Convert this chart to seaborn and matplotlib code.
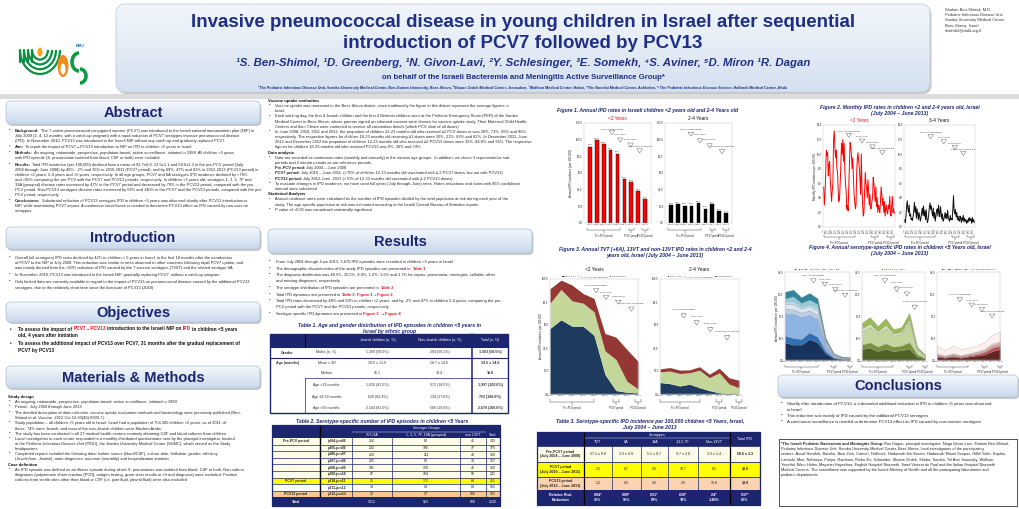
import textwrap
import numpy as np
import seaborn as sns
import matplotlib
matplotlib.use('Agg')
import matplotlib.pyplot as plt
from matplotlib.patches import Rectangle, FancyBboxPatch, Arc, Ellipse
from matplotlib.colors import LinearSegmentedColormap
from matplotlib.lines import Line2D

sns.set_style('white')
plt.rcParams['font.family'] = ['Liberation Sans', 'DejaVu Sans']
NARROW = ['Liberation Sans Narrow', 'Liberation Sans', 'DejaVu Sans']

# ---------------- data ----------------
years = ['2004-05', '2005-06', '2006-07', '2007-08', '2008-09',
         '2009-10', '2010-11', '2011-12', '2012-13']
rate_u2 = [91.6, 99.0, 94.8, 87.4, 83.1, 52.6, 49.4, 38.6, 28.5]
rate_2to4 = [21.8, 23.0, 20.8, 21.0, 23.7, 17.2, 22.4, 14.1, 11.9]

monthly_u2 = [5.5, 3.0, 4.5, 7.0, 10.5, 9.8, 10.2, 7.0, 8.5, 9.0, 6.5, 5.0,
              3.5, 5.0, 6.0, 12.0, 13.2, 11.0, 9.5, 10.5, 8.0, 7.5, 5.0, 3.5,
              4.0, 6.0, 8.5, 11.5, 10.0, 12.0, 9.0, 11.5, 8.0, 6.0, 5.0, 2.5,
              3.0, 2.2, 5.5, 8.5, 11.6, 11.0, 10.0, 8.0, 9.5, 7.0, 4.5, 3.5,
              2.5, 3.0, 7.5, 9.5, 10.2, 9.0, 8.0, 6.5, 4.5, 10.0, 5.5, 3.0,
              1.5, 2.0, 5.0, 7.5, 6.0, 5.5, 4.0, 6.5, 5.0, 3.0, 4.5, 2.5,
              2.5, 3.5, 4.0, 6.8, 6.0, 5.0, 3.5, 5.5, 2.8, 4.0, 2.0, 3.0,
              2.5, 2.0, 3.5, 5.5, 4.5, 3.0, 4.0, 2.0, 3.5, 1.5, 2.5, 3.0,
              2.0, 1.8, 3.0, 2.5, 4.2, 2.0, 1.5, 3.0, 4.2, 2.0, 2.5, 1.8]
monthly_2to4 = [1.0, 0.6, 1.5, 2.8, 3.6, 2.5, 2.0, 3.0, 1.5, 1.8, 1.0, 1.2,
                0.9, 1.5, 2.2, 3.4, 2.0, 2.8, 1.2, 2.5, 1.8, 1.0, 2.0, 1.5,
                0.8, 1.2, 2.0, 2.6, 1.6, 2.9, 1.5, 2.2, 1.0, 2.4, 1.2, 0.6,
                1.0, 1.8, 2.8, 3.3, 2.4, 2.9, 2.0, 1.5, 2.6, 1.2, 2.0, 0.8,
                1.5, 2.2, 2.5, 1.5, 3.0, 2.0, 1.4, 2.8, 2.0, 1.1, 1.8, 0.8,
                1.0, 1.4, 2.0, 1.2, 1.8, 1.1, 2.3, 1.3, 1.0, 0.8, 1.6, 1.0,
                1.2, 1.0, 2.5, 4.3, 2.2, 1.8, 2.4, 1.4, 2.0, 1.0, 1.5, 0.9,
                0.8, 1.5, 1.2, 0.6, 1.3, 0.9, 1.6, 0.7, 1.2, 0.8, 1.0, 0.5,
                0.9, 0.6, 1.2, 0.8, 1.3, 0.9, 1.1, 0.5, 1.3, 0.7, 1.0, 0.6]

grp_names = ['PCV7 + 6A', '1, 3, 5, 7F, 19A (grouped)', 'NON PCV13']
u2_pcv7 = [57.0, 64.5, 59.0, 59.0, 51.0, 17.0, 3.0, 1.5, 1.0]
u2_grouped = [22.0, 26.5, 22.0, 20.0, 20.5, 20.5, 27.0, 9.5, 3.5]
u2_non13 = [12.6, 8.0, 13.8, 8.4, 11.6, 15.1, 19.4, 27.6, 24.0]
o2_pcv7 = [10.0, 9.0, 7.0, 8.5, 5.5, 3.0, 1.0, 0.5, 0.3]
o2_grouped = [9.3, 11.0, 10.8, 10.0, 15.2, 11.2, 17.4, 8.1, 5.1]
o2_non13 = [2.5, 3.0, 3.0, 2.5, 3.0, 3.0, 4.0, 5.5, 6.5]

pcv7_types = ['4', '6B', '9V', '14', '18C', '19F', '23F', '6A']
pcv7_rates = [[8, 7, 7, 9.5, 8, 3, 0.8, 0.4, 0.3],
              [3, 3, 2.5, 3, 2.5, 1, 0.3, 0.2, 0.2],
              [10, 11, 10, 8, 8, 2.5, 0.6, 0.3, 0.2],
              [2.5, 2, 2, 2, 2, 0.8, 0.3, 0.1, 0.1],
              [2, 2.5, 2, 2, 2, 0.7, 0.3, 0.2, 0.1],
              [1, 1.5, 1, 1, 1.5, 0.5, 0.2, 0.1, 0.1],
              [1.5, 2, 1.5, 2, 1.5, 0.7, 0.3, 0.1, 0.1],
              [3, 3, 2.5, 3, 2.5, 0.8, 0.2, 0.1, 0.1]]
add_types = ['1', '3', '5', '7F', '19A']
add_rates = [[5, 5.5, 4, 5, 4, 4.5, 5, 1.5, 0.6],
             [2, 2.5, 2, 2.5, 2, 2, 3, 1, 0.4],
             [6, 7, 6, 7, 5, 5.5, 9, 2.5, 1],
             [1.5, 1.5, 1, 1.5, 1, 1, 1.5, 0.3, 0.1],
             [2.5, 3, 2.5, 3, 2, 2, 3, 0.7, 0.4]]
non_types = ['12F', '15A', '15B/C', '33F', '38', 'Others non-13VT']
non_rates = [[1.5, 1, 1.5, 1, 1.5, 2, 2.5, 4, 5],
             [0.5, 0.3, 0.5, 0.4, 0.5, 0.6, 1, 1.5, 1.5],
             [0.3, 0.2, 0.3, 0.3, 0.3, 0.4, 0.5, 0.8, 0.8],
             [0.4, 0.3, 0.4, 0.3, 0.4, 0.5, 0.5, 0.7, 0.7],
             [0.3, 0.2, 0.3, 0.2, 0.3, 0.3, 0.5, 0.5, 0.5],
             [3.5, 2.5, 3.5, 2.8, 2.5, 2.7, 3, 4, 4.5]]

events = ['PCV7 to private market', 'PCV7 to NIP', 'PCV13 to NIP', 'CATCH-UP PCV13 to NIP']

t1_head = ['Jewish children (n, %)', 'Non-Jewish children (n, %)', 'Total (n, %)']
t1_rows = [['Gender', 'Males (n, %)', '1,269 (58.0%)', '294 (58.1%)', '1,563 (58.5%)'],
           ['Age (months)', 'Mean ± SD', '19.6 ± 13.9', '18.7 ± 14.6', '19.5 ± 14.0'],
           ['', 'Median', '16.1', '14.4', '16.0'],
           ['', 'Age <24 months', '1,635 (81.5%)', '372 (18.5%)', '1,997 (100.0%)'],
           ['', 'Age 24-59 months', '629 (82.4%)', '134 (17.6%)', '763 (100.0%)'],
           ['', 'Age <60 months', '2,164 (81.0%)', '506 (19.0%)', '2,670 (100.0%)']]

t2_head = ['7VT+6A', '1, 3, 5, 7F, 19A (grouped)', 'non 13VT', 'Total']
t2_period = ['Pre-PCV period', '', '', '', '', '', 'PCV7 period', '', 'PCV13 period', 'Total']
t2_years = ['jul04-jun05', 'jul05-jun06', 'jul06-jun07', 'jul07-jun08', 'jul08-jun09',
            'jul09-jun10', 'jul10-jun11', 'jul11-jun12', 'jul12-jun13', '']
t2_vt = ['216', '232', '210', '225', '191', '87', '25', '14', '12', '1212']
t2_grp = ['82', '106', '111', '99', '128', '104', '172', '84', '37', '923']
t2_non = ['45', '37', '48', '33', '41', '50', '64', '84', '106', '508']
t2_tot = ['343', '375', '369', '357', '360', '241', '261', '182', '155', '2643']

t3_cols = ['TVT', '6A', '19A', '1,3,5,7F', 'Non-13VT']
t3_periods = ['Pre-PCV7 period\n(July 2004 – June 2008)', 'PCV7 period\n(July 2010 – June 2011)',
              'PCV13 period\n(July 2012 – June 2013)', 'Relative Risk\nReduction']
t3_vals = [['37.2 ± 0.8', '3.3 ± 0.9', '5.1 ± 0.7', '9.7 ± 2.0', '3.3 ± 1.4', '58.6 ± 2.3'],
           ['2.5', '0.7', '5.0', '18.7', '8.1', '33.0'],
           ['1.2', '0.3', '1.6', '2.9', '12.8', '18.8'],
           ['0.04*\n96%', '0.09*\n91%', '0.31*\n69%', '0.30*\n70%', '2.4*\n-140%', '0.37*\n63%']]

# ---------------- canvas ----------------
W, H = 1020, 509
NAVY = '#1f2f86'
TNAVY = '#1c2670'
TXT = '#262626'
RED = '#e8141b'

fig = plt.figure(figsize=(W / 100, H / 100), dpi=100)
bg = fig.add_axes([0, 0, 1, 1])
bg.set_xlim(0, W)
bg.set_ylim(H, 0)
bg.axis('off')
renderer = fig.canvas.get_renderer()
inv = bg.transData.inverted()


def px_axes(x0, y0, x1, y1):
    return fig.add_axes([x0 / W, 1 - y1 / H, (x1 - x0) / W, (y1 - y0) / H])


def grad_box(x0, y0, x1, y1, c_top, c_bot, ec='#b4c6dc', r=5, shadow=True):
    bs = 'round,pad=0,rounding_size=%s' % r
    if shadow:
        bg.add_patch(FancyBboxPatch((x0 + 1.5, y0 + 2), x1 - x0, y1 - y0, boxstyle=bs,
                                    fc='#c8c8c8', ec='none', zorder=1))
    p = FancyBboxPatch((x0, y0), x1 - x0, y1 - y0, boxstyle=bs, fc='none', ec=ec, lw=0.6, zorder=3)
    bg.add_patch(p)
    cmap = LinearSegmentedColormap.from_list('g', [c_top, c_bot])
    im = bg.imshow(np.linspace(0, 1, 60).reshape(-1, 1), extent=[x0, x1, y1, y0], cmap=cmap,
                   aspect='auto', zorder=2, interpolation='bilinear')
    im.set_clip_path(p)


def section(x0, y0, x1, y1, title):
    grad_box(x0, y0, x1, y1, '#f4f8fc', '#c9d9ec')
    bg.text((x0 + x1) / 2, (y0 + y1) / 2 + 0.5, title, ha='center', va='center', fontsize=10.5,
            fontweight='bold', color=TNAVY, zorder=4)


def rich(x, y, segs, fs, zorder=4):
    sp = fs * 100 / 72 * 0.278
    for s, c, bold in segs:
        lead = len(s) - len(s.lstrip(' '))
        trail = len(s) - len(s.rstrip(' '))
        x += lead * sp
        core = s.strip(' ')
        if core:
            t = bg.text(x, y, core, fontsize=fs, color=c, fontweight='bold' if bold else 'normal',
                        va='center', ha='left', zorder=zorder)
            bb = t.get_window_extent(renderer)
            x = inv.transform((bb.x1, bb.y0))[0]
        x += trail * sp
    return x


def para(x, y, width, text, fs=2.9, lh=5.1, lead=None, bullet='•', gap=1.0, color=TXT):
    ind = 7 if bullet else 0
    chars = int((width - ind) / (fs * 100 / 72 * 0.47))
    lines = textwrap.wrap(text, chars)
    if bullet:
        bg.text(x + 1, y, bullet, fontsize=fs, color=color, va='center', zorder=4)
    for i, ln in enumerate(lines):
        if i == 0 and lead and ln.startswith(lead):
            rich(x + ind, y, [(lead, color, True), (ln[len(lead):], color, False)], fs)
        else:
            bg.text(x + ind, y, ln, fontsize=fs, color=color, va='center', zorder=4)
        y += lh
    return y + gap


def sub(x, y, s, fs=3.0):
    bg.text(x, y, s, fontsize=fs, fontweight='bold', color='#111111', va='center', zorder=4)
    return y + 5.1


def fig_title(xc, y, lines):
    for i, s in enumerate(lines):
        bg.text(xc, y + i * 6, s, ha='center', va='center', fontsize=3.7, fontweight='bold',
                fontstyle='italic', color=TNAVY, zorder=4)


def style(ax, ymax, ystep, xlim=None):
    ax.set_ylim(0, ymax)
    ticks = np.arange(0, ymax + 0.001, ystep)
    ax.set_yticks(ticks)
    ax.set_yticklabels(['%.1f' % v for v in ticks])
    ax.tick_params(length=0, pad=1, labelsize=1.9)
    if xlim is not None:
        ax.set_xlim(*xlim)
    for s in ax.spines.values():
        s.set_color('#bdbdbd')
        s.set_linewidth(0.3)
    ax.set_xlabel('')
    ax.set_ylabel('')


def brace(ax, x0, x1, label, y=-0.07, d=0.025):
    tr = ax.get_xaxis_transform()
    ax.plot([x0, x0, x1, x1], [y + d, y, y, y + d], transform=tr, clip_on=False, color='#333333', lw=0.3)
    xm = (x0 + x1) / 2
    ax.plot([xm, xm], [y, y - d], transform=tr, clip_on=False, color='#333333', lw=0.3)
    ax.text(xm, y - d - 0.01, label, transform=tr, ha='center', va='top', fontsize=1.8, color='#222222')


def arrows(ax, spots):
    for lab, (x, yt, yh) in zip(events, spots):
        ax.annotate(lab, xy=(x, yh), xytext=(x, yt), ha='center', va='bottom', fontsize=1.5,
                    color='#222222',
                    arrowprops=dict(arrowstyle='simple,head_width=0.8,head_length=0.6,tail_width=0.3',
                                    fc='white', ec='#333333', lw=0.25, mutation_scale=5,
                                    shrinkA=0, shrinkB=0))


def ylab(x, yc, s):
    bg.text(x, yc, s, rotation=90, ha='center', va='center', fontsize=2.2, color='#222222', zorder=4)


# ---------------- header ----------------
bg.add_patch(Rectangle((0, 94), W, 5, fc='#dcdcdc', ec='none', zorder=0))
grad_box(116, 4, 930, 92, '#f2f6fb', '#d4e1f0', ec='#c2cfdf', r=9)
bg.text(523, 22, 'Invasive pneumococcal disease in young children in Israel after sequential',
        ha='center', va='center', fontsize=13.5, fontweight='bold', color=NAVY, family=NARROW, zorder=4)
bg.text(523, 43, 'introduction of PCV7 followed by PCV13', ha='center', va='center', fontsize=13.5,
        fontweight='bold', color=NAVY, family=NARROW, zorder=4)
bg.text(523, 63, '¹S. Ben-Shimol, ¹D. Greenberg, ¹N. Givon-Lavi, ²Y. Schlesinger, ³E. Somekh, '
        '⁴S. Aviner, ⁵D. Miron ¹R. Dagan', ha='center', va='center', fontsize=8.2, fontweight='bold',
        fontstyle='italic', color=NAVY, family=NARROW, zorder=4)
bg.text(523, 77, 'on behalf of the Israeli Bacteremia and Meningitis Active Surveillance Group*',
        ha='center', va='center', fontsize=5.6, fontweight='bold', color=NAVY, family=NARROW, zorder=4)
bg.text(523, 88, '¹The Pediatric Infectious Disease Unit, Soroka University Medical Center, Ben-Gurion '
        'University, Beer-Sheva, ²Shaare Zedek Medical Center, Jerusalem, ³Wolfson Medical Center, Holon, '
        '⁴The Barzilai Medical Center, Ashkelon, ⁵ The Pediatric Infectious Disease Service, HaEmek Medical '
        'Center, Afula', ha='center', va='center', fontsize=2.7, fontweight='bold', color=NAVY,
        family=NARROW, zorder=4)
for i, s in enumerate(['Shalom Ben-Shimol, M.D.', 'Pediatric Infectious Disease Unit',
                       'Soroka University Medical Center', 'Beer-Sheva, Israel', 'shalmb3@clalit.org.il']):
    bg.text(945, 10 + i * 5.2, s, fontsize=2.9, color='#333333', va='center', zorder=4)

# logos
for r in [8, 12, 16, 20]:
    bg.add_patch(Arc((40, 50), 2 * r, 2 * r * 1.2, theta1=0, theta2=180, color='#0b8f43', lw=1.6, zorder=3))
    bg.plot([40 - r, 40 - r], [50, 62], color='#0b8f43', lw=1.6, zorder=3)
bg.add_patch(Ellipse((40, 52), 5, 9, fc='#f6a21a', ec='none', zorder=3))
bg.add_patch(Ellipse((63, 66), 11, 22, fc='#f28a1d', ec='none', zorder=3))
bg.add_patch(Ellipse((63, 69), 5, 11, fc='white', ec='none', zorder=3))
bg.add_patch(Arc((79, 62), 14, 18, theta1=90, theta2=270, color='#119a46', lw=2.6, zorder=3))
bg.add_patch(Arc((80, 76), 12, 14, theta1=-90, theta2=90, color='#119a46', lw=2.6, zorder=3))
bg.text(80, 47, 'BMJ', fontsize=3, color='#1a6fb4', fontweight='bold', ha='center', zorder=3)

# ---------------- left column ----------------
section(6, 101, 260, 124, 'Abstract')
y = 131
y = para(8, y, 252, 'Background: The 7-valent pneumococcal conjugated vaccine (PCV7) was introduced to the Israeli '
         'national immunization plan (NIP) in July 2009 (2, 4, 12 months; with a catch-up program) with a rapid '
         'reduction of PCV7 serotypes invasive pneumococcal disease (IPD). In November 2010, PCV13 was introduced '
         'to the Israeli NIP without any catch-up and gradually replaced PCV7.', lead='Background:')
y = para(8, y, 252, 'Aim: To report the impact of PCV7→PCV13 introduction to NIP on IPD in children <5 years in Israel.',
         lead='Aim:')
y = para(8, y, 252, 'Methods: An ongoing, nationwide, prospective, population-based, active surveillance, initiated '
         'in 1989. All children <5 years with IPD episode (S. pneumoniae isolated from blood, CSF or both) were '
         'included.', lead='Methods:')
y = para(8, y, 252, 'Results: Total IPD incidence (per 100,000) declined from a mean of 92.7±6.0, 21.5±1.1 and '
         '58.6±2.3 in the pre-PCV period (July 2004 through June 2008) by 48%, -2% and 35% in 2010-2011 (PCV7 '
         'period), and by 69%, 47% and 63% in 2012-2013 (PCV13 period) in children <2 years, 2-4 years and <5 '
         'years, respectively. In all age groups, PCV7 and 6A serotypes IPD incidence declined by >76% and >90% '
         'comparing the pre-PCV with the PCV7 and PCV13 periods, respectively. In children <5 years old, serotypes '
         '1, 3, 5, 7F and 19A (grouped) disease rates increased by 47% in the PCV7 period and decreased by 70% in '
         'the PCV13 period, compared with the pre-PCV period. Non-PCV13 serotypes disease rates increased by 59% '
         'and 140% in the PCV7 and the PCV13 periods, compared with the pre-PCV period, respectively.',
         lead='Results:')
y = para(8, y, 252, 'Conclusions: Substantial reduction of PCV13 serotypes IPD in children <5 years was observed '
         'shortly after PCV13 introduction to NIP, while maintaining PCV7 impact. A continuous surveillance is '
         'needed to determine PCV13 effect on IPD caused by non-vaccine serotypes.', lead='Conclusions:')

section(6, 227, 260, 249, 'Introduction')
y = 258
y = para(8, y, 252, 'Overall (all serotypes) IPD rates declined by 42% in children < 5 years in Israel, in the '
         'first 18 months after the introduction of PCV7 to the NIP in July 2009. This reduction was similar to '
         'rates observed in other countries following rapid PCV7 uptake, and was mainly derived from the >80% '
         'reduction of IPD caused by the 7 vaccine serotypes (7VST) and the related serotype 6A', gap=2)
y = para(8, y, 252, 'In November 2010, PCV13 was introduced to the Israeli NIP, gradually replacing PCV7, without '
         'a catch-up program', gap=2)
y = para(8, y, 252, 'Only limited data are currently available in regard to the impact of PCV13 on pneumococcal '
         'disease caused by the additional PCV13 serotypes, due to the relatively short time since the '
         'licensure of PCV13 (2010)')

section(6, 302, 260, 322, 'Objectives')
K = '#111111'
bg.text(10, 329, '•', fontsize=3.4, color=K, fontweight='bold', va='center')
rich(18, 329, [('To assess the impact of ', K, True), ('PCV7→PCV13', RED, True),
               (' introduction to the Israeli NIP on ', K, True), ('IPD', RED, True),
               (' in children <5 years', K, True)], 3.4)
rich(18, 335.5, [('old, 4 years after initiation', K, True)], 3.4)
bg.text(10, 344, '•', fontsize=3.4, color=K, fontweight='bold', va='center')
rich(18, 344, [('To assess the additional impact of PCV13 over PCV7, 31 months after the gradual '
                'replacement of', K, True)], 3.4)
rich(18, 350.5, [('PCV7 by PCV13', K, True)], 3.4)

section(6, 366, 260, 388, 'Materials & Methods')
y = 397
y = sub(8, y, 'Study design')
for s in ['An ongoing, nationwide, prospective, population-based, active surveillance, initiated in 1989',
          'Period - July 2004 through June 2013',
          'The detailed description of data collection, vaccine uptake evaluation methods and bacteriology were '
          'previously published (Ben-Shimol et al. Vaccine. 2012 Oct 12;30(46):6600-7).',
          'Study population – all children <5 years old in Israel. Israel had a population of 754,300 children '
          '<5 years, as of 2011; of those, 74% were Jewish, and most of the non-Jewish children were Moslem Arabs.',
          'The study has been conducted in all 27 medical health centers routinely obtaining CSF and blood '
          'cultures from children',
          'Local investigators in each center responded to a monthly distributed questionnaire sent by the '
          'principal investigator, located at the Pediatric Infectious Disease Unit (PIDU), the Soroka University '
          'Medical Center (SUMC), which served as the Study headquarters',
          'Completed reports included the following data: Isolate source (blood/CSF), culture date, birthdate, '
          'gender, ethnicity (Jewish/non- Jewish), main diagnoses, outcome (mortality) and hospitalization duration']:
    y = para(8, y, 252, s, gap=0.2)
y = sub(8, y, 'Case definition')
y = para(8, y, 252, 'An IPD episode was defined as an illness episode during which S. pneumoniae was isolated from '
         'blood, CSF or both. Non-culture diagnoses (polymerase chain reaction [PCR], antigen testing, gram stain '
         'results or clinical diagnosis) were excluded. Positive cultures from sterile sites other than blood or '
         'CSF (i.e. joint fluid, pleural fluid) were also excluded')

# ---------------- middle column ----------------
y = 101
y = sub(268, y, 'Vaccine uptake evaluation')
y = para(268, y, 265, 'Vaccine uptake was measured in the Beer-Sheva district, since traditionally the figure in '
         'this district represent the average figures in Israel.', gap=0.2)
y = para(268, y, 265, 'Each working day, the first 4 Jewish children and the first 4 Bedouin children seen at the '
         'Pediatric Emergency Room (PER) of the Soroka Medical Center in Beer-Sheva, whose parents signed an '
         'informed consent were chosen for vaccine uptake study. Their Maternal Child Health Centers and their '
         'Clinics were contacted to receive all vaccination details (which PCV, date of all doses)', gap=0.2)
y = para(268, y, 265, 'In June 2008, 2010, 2011 and 2012, the proportion of children 12-23 months old who received '
         '≥2 PCV doses in was 20%, 71%, 96% and 96%, respectively. The respective figures for children 18-23 months '
         'old receiving ≥1 doses were 10%, 21%, 83% and 82%. In December 2011, June 2012 and December 2012 the '
         'proportion of children 12-23 months old who received ≥2 PCV13 doses were 15%, 84.8% and 95%. The '
         'respective figures for children 18-23 months old who received PCV13 was 0%, 30% and 74%.', gap=0.2)
y = sub(268, y, 'Data analysis')
y = para(268, y, 265, 'Data are recorded as continuous rates (monthly and annually) in the various age groups.  In '
         'addition, we chose 3 representative sub-periods and 2 interim periods as our reference periods.', gap=0.2)
y = para(268, y, 265, 'Pre-PCV period: July 2004 – June 2008', lead='Pre-PCV period:', bullet='-', gap=0.2)
y = para(268, y, 265, 'PCV7 period: July 2010 – June 2011  (>70% of children 12-23 months old vaccinated with ≥ 2 '
         'PCV7 doses, but not with PCV13)', lead='PCV7 period:', bullet='-', gap=0.2)
y = para(268, y, 265, 'PCV13 period: July 2012-June  2013 (>70% of 12-23 months old vaccinated with ≥ 2 PCV13 doses)',
         lead='PCV13 period:', bullet='-', gap=0.2)
y = para(268, y, 265, 'To evaluate changes in IPD incidence, we have used full years (July through June) rates. '
         'Rates reductions and ratios with 95% confidence interval were calculated', gap=0.2)
y = sub(268, y, 'Statistical Analysis')
y = para(268, y, 265, 'Annual incidence rates were calculated as the number of IPD episodes divided by the total '
         'population at risk during each year of the study. The age-specific population at risk was estimated '
         'according to the Israeli Central Bureau of Statistics reports', gap=0.2)
y = para(268, y, 265, 'P value of <0.05 was considered statistically significant')

section(268, 229, 532, 253, 'Results')
res_lines = [
    [('From July 2004 through June 2013, 2,670 IPD episodes were recorded in children <5 years in Israel', TXT, False)],
    [('The demographic characteristics of the study IPD episodes are presented in ', TXT, False), ('Table 1', RED, True)],
    [('The diagnosis distribution was 48.5%, 35.5%, 9.4%, 1.2%, 1.6% and 3.7% for sepsis, pneumonia, meningitis, '
      'cellulitis, other', TXT, False)],
    [('and missing diagnoses, respectively', TXT, False)],
    [('The serotype distribution of IPD episodes are presented in ', TXT, False), ('Table 2', RED, True)],
    [('Total IPD dynamics are presented in ', TXT, False), ('Table 3', RED, True), (', ', TXT, False),
     ('Figure 1', RED, True), (' + ', TXT, False), ('Figure 2', RED, True)],
    [('Total IPD rates decreased by 48% and 69% in children <2 years, and by -2% and 47% in children 2-4 years, '
      'comparing the pre-', TXT, False)],
    [('PCV period with the PCV7 and the PCV13 periods, respectively.', TXT, False)],
    [('Serotype specific IPD dynamics are presented in ', TXT, False), ('Figure 3', RED, True),
     (' → ', TXT, False), ('Figure 4', RED, True)]]
y = 262
for i, segs in enumerate(res_lines):
    if i not in (3, 7):
        bg.text(269, y, '•', fontsize=2.9, color=TXT, va='center')
    rich(276, y, segs, 2.9)
    y += 6.2 if i in (2, 6) else 6.6

# Table 1
fig_title(390, 325, ['Table 1. Age and gender distribution of IPD episodes in children <5 years in',
                     'Israel by ethnic group'])
xs = [270, 305, 348, 407, 472, 508]
ys = [334, 347, 358, 368, 378, 392, 402, 413]
bg.add_patch(Rectangle((270, 334), 238, 13, fc=TNAVY, ec='none', zorder=2))
for j, s in enumerate(t1_head):
    bg.text((xs[j + 2] + xs[j + 3]) / 2, 340.5, s, ha='center', va='center', fontsize=2.6, color='white', zorder=4)
for i, row in enumerate(t1_rows):
    yc = (ys[i + 1] + ys[i + 2]) / 2
    for j, s in enumerate(row):
        bold = j == 0 or j == 4
        bg.text((xs[j] + xs[j + 1]) / 2, yc, s, ha='center', va='center', fontsize=2.6, color='#333333',
                fontweight='bold' if bold else 'normal', zorder=4)
bg.add_patch(Rectangle((270, 334), 238, 79, fc='none', ec=TNAVY, lw=1.0, zorder=5))
for yy in [347, 358]:
    bg.plot([270, 508], [yy, yy], color=TNAVY, lw=0.8, zorder=5)
bg.plot([305, 508], [378, 378], color=TNAVY, lw=0.5, zorder=5)
bg.plot([305, 305], [334, 347], color='#000000', lw=0.8, zorder=5)
bg.plot([305, 305], [378, 413], color=TNAVY, lw=0.5, zorder=5)
bg.plot([472, 472], [334, 413], color=TNAVY, lw=1.1, zorder=5)

# Table 2
fig_title(382, 421, ['Table 2. Serotype-specific number of IPD episodes in children <5 Years'])
xs = [272, 320, 352, 392, 460, 486, 500]
bg.add_patch(Rectangle((272, 425), 228, 13, fc=TNAVY, ec='none', zorder=2))
bg.text(426, 428.2, 'Serotype Groups', ha='center', va='center', fontsize=2.5, color='white', zorder=4)
for j, s in enumerate(t2_head[:3]):
    bg.text((xs[j + 2] + xs[j + 3]) / 2, 434.8, s, ha='center', va='center', fontsize=2.5, color='white', zorder=4)
bg.text(493, 434.8, 'Total', ha='center', va='center', fontsize=2.5, color='white', zorder=4)
bg.plot([352, 486], [431.5, 431.5], color='white', lw=0.3, zorder=5)
bg.plot([320, 320], [425, 438], color='#000000', lw=1.0, zorder=5)
fills = ['#fefbe8'] * 6 + ['#ffff00', '#ffffff', '#fac794', TNAVY]
rh = 6.6
for i in range(10):
    y0 = 438 + i * rh
    h = rh if i < 9 else 8.5
    bg.add_patch(Rectangle((272, y0), 228, h, fc=fills[i], ec='none', zorder=2))
    col = 'white' if i == 9 else '#222222'
    cells = [t2_period[i], t2_years[i], t2_vt[i], t2_grp[i], t2_non[i], t2_tot[i]]
    for j, s in enumerate(cells):
        bg.text((xs[j] + xs[j + 1]) / 2, y0 + h / 2, s, ha='center', va='center', fontsize=2.5, color=col,
                fontweight='bold' if j in (0, 1) else 'normal', zorder=4)
    bg.plot([272, 500], [y0 + h, y0 + h], color=TNAVY, lw=0.5, zorder=5)
for xx in xs[1:-1]:
    bg.plot([xx, xx], [438, 497.4], color=TNAVY, lw=0.5, zorder=5)
bg.plot([320, 320], [438, 497.4], color='#000000', lw=1.0, zorder=5)
bg.add_patch(Rectangle((272, 425), 228, 81, fc='none', ec=TNAVY, lw=0.9, zorder=5))

# ---------------- figure 1 ----------------
fig_title(648, 110, ['Figure 1. Annual IPD rates in Israeli children <2 years old and 2-4 Years old'])
ylab(571, 173, 'Annual IPD incidence (per 100,000)')
spots_1a = [(3.2, 112, 106), (4.4, 105, 97), (5.9, 99, 91), (7.2, 91, 84)]
spots_1b = [(2.9, 112, 104), (4.2, 105, 96), (5.6, 99, 90), (7.4, 91, 83)]
for (x0, x1), vals, col, ttl, tcol, spots in [((584, 651), rate_u2, '#ff0000', '<2 Years', RED, spots_1a),
                                               ((665, 732), rate_2to4, '#000000', '2-4 Years', '#111111', spots_1b)]:
    ax = px_axes(x0, 123, x1, 223)
    sns.barplot(x=years, y=vals, ax=ax, color=col, saturation=1, edgecolor='black', linewidth=0.3, width=0.55)
    style(ax, 120, 20)
    ax.tick_params(axis='x', labelsize=1.3)
    for k, v in enumerate(vals):
        ax.text(k, v + 1.5, '%.1f' % v, ha='center', va='bottom', fontsize=1.7, color='#222222')
    ax.set_title(ttl, fontsize=3.4, color=tcol, pad=2)
    brace(ax, -0.4, 4.4, 'Pre-PCV period')
    brace(ax, 5.6, 6.4, 'PCV7 period')
    brace(ax, 7.6, 8.4, 'PCV13 period')
    arrows(ax, spots)

# ---------------- figure 2 ----------------
fig_title(900, 107, ['Figure 2. Monthly IPD rates in children <2 and 2-4 years old, Israel',
                     '(July 2004 – June 2013)'])
ylab(815, 176, 'Monthly IPD incidence per 100,000')
months = np.arange(len(monthly_u2))
mlabels = ['%s-%02d' % (m, yy) for yy in range(4, 14) for m in
           ['Jan', 'Feb', 'Mar', 'Apr', 'May', 'Jun', 'Jul', 'Aug', 'Sep', 'Oct', 'Nov', 'Dec']][6:114]
spots_2a = [(38, 13.1, 12.3), (58, 12.3, 11.5), (74, 11.5, 10.7), (89, 10.7, 9.9)]
spots_2b = [(40, 12.9, 12.1), (60, 12.2, 11.4), (77, 11.4, 10.6), (90, 10.6, 9.8)]
for (x0, x1), vals, col, ttl, tcol, spots in [((823, 895), monthly_u2, '#ff0000', '<2 Years', RED, spots_2a),
                                               ((904, 975), monthly_2to4, '#111111', '3-4 Years', '#111111', spots_2b)]:
    ax = px_axes(x0, 125, x1, 227)
    sns.lineplot(x=months, y=vals, ax=ax, color=col, lw=0.7)
    style(ax, 14, 2, xlim=(-1, 108))
    ax.set_xticks(months[::2])
    ax.set_xticklabels(mlabels[::2], rotation=90, fontsize=1.0)
    ax.set_title(ttl, fontsize=3.4, color=tcol, pad=2)
    brace(ax, 0, 47, 'Pre-PCV period', y=-0.1)
    brace(ax, 72, 83, 'PCV7 period', y=-0.1)
    brace(ax, 96, 107, 'PCV13 period', y=-0.1)
    arrows(ax, spots)

# ---------------- figure 3 ----------------
fig_title(655, 250, ['Figure 3. Annual 7VT (+6A), 13VT and non-13VT IPD rates in children <2 and 2-4',
                     'years old, Israel (July 2004 – June 2013)'])
ylab(541, 336, 'Annual IPD incidence per 100,000')
grp_cols = ['#1f3a5f', '#c4d79b', '#953735']
xi = np.arange(len(years))
spots_3a = [(4.2, 94, 88), (5.1, 88, 82), (6.2, 84, 78), (7.4, 78, 72)]
spots_3b = [(2.4, 73, 66), (3.7, 67, 60), (5.1, 61, 54), (6.8, 54, 47)]
for (x0, x1), layers, ttl, spots in [((550, 638), [u2_pcv7, u2_grouped, u2_non13], '<2 Years', spots_3a),
                                     ((660, 739), [o2_pcv7, o2_grouped, o2_non13], '2-4 Years', spots_3b)]:
    ax = px_axes(x0, 279, x1, 394)
    ax.stackplot(xi, *layers, colors=grp_cols, labels=grp_names, lw=0)
    style(ax, 100, 20, xlim=(0, 8))
    ax.set_xticks(xi)
    ax.set_xticklabels(years, fontsize=1.4)
    ax.set_title(ttl, fontsize=3.4, color='#111111', pad=6)
    ax.legend(loc='lower center', bbox_to_anchor=(0.5, 1.0), ncol=3, fontsize=1.7, frameon=False,
              handlelength=0.7, handleheight=0.7, handletextpad=0.3, columnspacing=0.8, borderaxespad=0.2)
    brace(ax, 0, 4, 'Pre-PCV period')
    brace(ax, 5.7, 6.3, 'PCV7 period')
    brace(ax, 7.7, 8.3, 'PCV13 period')
    arrows(ax, spots)

# ---------------- figure 4 ----------------
fig_title(900, 247, ['Figure 4. Annual serotype-specific IPD rates in children <5 Years old, Israel',
                     '(July 2004 – June 2013)'])
ylab(777, 318, 'Annual IPD incidence per 100,000')
pal_blue = ['#17325c', '#2e6fb5', '#8db4e2', '#b9cde5', '#dbe5f1', '#b7dee8', '#93cddd', '#31859c']
pal_green = ['#4f6228', '#77933c', '#c3d69b', '#d7e4bd', '#9bbb59']
pal_red = ['#632523', '#c0504d', '#d99694', '#e6b9b8', '#f2dcdb', '#fdf0ef']
spots_4 = [[(3.5, 38, 35), (4.9, 36.5, 33.5), (6.2, 34, 31), (7.4, 31.5, 28.5)],
           [(2.9, 38, 35), (4.4, 35, 31), (5.7, 32.5, 29), (6.7, 26.5, 23)],
           [(2.9, 29.5, 26.5), (4.4, 27, 24), (5.7, 25, 22), (7.0, 22, 19)]]
for (x0, x1), layers, names, pal, spots in [((785, 850), pcv7_rates, pcv7_types, pal_blue, spots_4[0]),
                                            ((862, 925), add_rates, add_types, pal_green, spots_4[1]),
                                            ((937, 1000), non_rates, non_types, pal_red, spots_4[2])]:
    ax = px_axes(x0, 272, x1, 360)
    ax.stackplot(xi, *layers, colors=pal, labels=names, edgecolor='#7f7f7f', lw=0.15)
    style(ax, 40, 10, xlim=(0, 8))
    ax.set_xticks(xi)
    ax.set_xticklabels(years, fontsize=1.3)
    ax.legend(loc='lower center', bbox_to_anchor=(0.5, 1.0), ncol=len(names), fontsize=1.6, frameon=False,
              handlelength=0.6, handleheight=0.6, handletextpad=0.2, columnspacing=0.5, borderaxespad=0.3)
    brace(ax, 0, 4, 'Pre-PCV period', y=-0.08)
    brace(ax, 5.7, 6.3, 'PCV7 period', y=-0.08)
    brace(ax, 7.7, 8.3, 'PCV13 period', y=-0.08)
    arrows(ax, spots)

# ---------------- table 3 ----------------
fig_title(650, 422, ['Table 3. Serotype-specific IPD incidence per 100,000 children <5 Years, Israel,',
                     'July 2004 – June 2013'])
xs = [537, 584, 612, 641, 668, 698, 730, 760]
bg.add_patch(Rectangle((537, 432), 223, 14, fc=TNAVY, ec='none', zorder=2))
bg.text(657, 435, 'Serotypes', ha='center', va='center', fontsize=2.7, color='white', zorder=4)
for j, s in enumerate(t3_cols):
    bg.text((xs[j + 1] + xs[j + 2]) / 2, 442, s, ha='center', va='center', fontsize=2.7, color='white', zorder=4)
bg.text(745, 439, 'Total IPD', ha='center', va='center', fontsize=2.7, color='white', zorder=4)
bg.plot([584, 730], [438, 438], color='white', lw=0.3, zorder=5)
rows_y = [446, 462, 477, 490, 505]
t3_fill = ['#fefbe8', '#ffff00', '#fbd3b0', TNAVY]
for i in range(4):
    y0, y1 = rows_y[i], rows_y[i + 1]
    bg.add_patch(Rectangle((537, y0), 223, y1 - y0, fc=t3_fill[i], ec='none', zorder=2))
    col = 'white' if i == 3 else '#222222'
    bg.text((537 + 584) / 2, (y0 + y1) / 2, t3_periods[i], ha='center', va='center', fontsize=2.6, color=col,
            fontweight='bold', linespacing=1.3, zorder=4)
    for j, s in enumerate(t3_vals[i]):
        bg.text((xs[j + 1] + xs[j + 2]) / 2, (y0 + y1) / 2, s, ha='center', va='center', fontsize=2.6, color=col,
                fontweight='bold' if (j == 5 or i == 3) else 'normal', linespacing=1.5, zorder=4)
    bg.plot([537, 760], [y0, y0], color=TNAVY, lw=0.6, zorder=5)
for xx in xs[1:-1]:
    bg.plot([xx, xx], [438 if xx != 730 else 432, 505], color=TNAVY if xx != 730 else '#000000',
            lw=0.5 if xx != 730 else 0.9, zorder=5)
bg.plot([584, 584], [432, 505], color='#000000', lw=0.9, zorder=5)
bg.add_patch(Rectangle((537, 432), 223, 73, fc='none', ec=TNAVY, lw=0.9, zorder=5))

# ---------------- conclusions ----------------
section(778, 375, 1018, 397, 'Conclusions')
y = 404
y = para(780, y, 236, 'Shortly after introduction of PCV13, a substantial additional reduction in IPD in children '
         '<5 years was observed in Israel', fs=3.1, lh=5.6, gap=0.5)
y = para(780, y, 236, 'This reduction was mainly of IPD caused by the additional PCV13 serotypes', fs=3.1, lh=5.6,
         gap=0.5)
y = para(780, y, 236, 'A continuous surveillance is needed to determine PCV13 effect on IPD caused by non-vaccine '
         'serotypes', fs=3.1, lh=5.6)
bg.add_patch(Rectangle((779, 439), 238, 67, fc='white', ec='#333333', lw=0.6, zorder=3))
para(781, 444, 234, '*The Israeli Pediatric Bacteremia and Meningitis Group: Ron Dagan, principal investigator. '
     'Noga Givon-Lavi, Shalom Ben-Shimol, Pediatric Infectious Disease Unit, Soroka University Medical Center, '
     'Beer-Sheva; local investigators of the participating centers: Assaf Harofeh, Barzilai, Bnai Zion, Carmel, '
     'HaEmek, Hadassah Ein-Kerem, Hadassah Mount Scopus, Hillel Yaffe, Kaplan, Laniado, Meir, Nahariya, Poriya, '
     'Rambam, Rivka Ziv, Schneider, Shaare Zedek, Sheba, Soroka, Tel Aviv Sourasky, Wolfson, Yoseftal, Bikur '
     'Holim, Mayanei Hayeshua, English Hospital Nazareth, Saint Vincent de Paul and the Italian Hospital Nazareth '
     'Medical Centers. The surveillance was supported by the Israeli Ministry of Health and all the participating '
     'laboratories and pediatric departments.',
     fs=2.8, lh=5.2, lead='*The Israeli Pediatric Bacteremia and Meningitis Group:', bullet=None)

bg.set_xlim(0, W)
bg.set_ylim(H, 0)
fig.savefig('out.png', dpi=100)
